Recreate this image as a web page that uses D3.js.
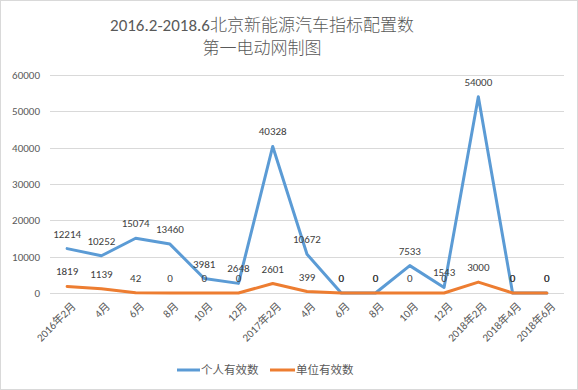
<!DOCTYPE html>
<html><head><meta charset="utf-8">
<script src="https://cdn.jsdelivr.net/npm/d3@7"></script>
<style>
html,body{margin:0;padding:0;background:#fff;}
svg{display:block;}
</style></head>
<body>
<svg id="c" width="578" height="390"></svg>
<script>
const categories = ["2016年2月","4月","6月","8月","10月","12月","2017年2月","4月","6月","8月","10月","12月","2018年2月","2018年4月","2018年6月"];
const personal = [12214,10252,15074,13460,3981,2648,40328,10672,0,0,7533,1543,54000,0,0];
const unit = [1819,1139,42,0,0,0,2601,399,0,0,0,0,3000,0,0];
const yTicks = [0,10000,20000,30000,40000,50000,60000];
const seriesNames = ["个人有效数","单位有效数"];
const colors = ["#5B9BD5","#ED7D31"];

const svg = d3.select("#c");
const W = 578, H = 390;
const latin = "Carlito, Calibri, 'Open Sans', 'Noto Sans CJK SC', sans-serif";
const cjk = "'Noto Sans CJK SC', sans-serif";
const textCol = "#595959";

svg.append("rect").attr("x",0.5).attr("y",0.5).attr("width",W-1).attr("height",H-1)
  .attr("fill","#fff").attr("stroke","#d9d9d9");

// Title
const tx = 262;
const t1 = svg.append("text").attr("x",tx).attr("y",31).attr("text-anchor","middle")
  .attr("fill",textCol).attr("font-size",17);
t1.append("tspan").attr("font-family",latin).text("2016.2-2018.6");
t1.append("tspan").attr("font-family",cjk).attr("font-weight",300).text("北京新能源汽车指标配置数");
svg.append("text").attr("x",tx).attr("y",54).attr("text-anchor","middle")
  .attr("fill",textCol).attr("font-size",17).attr("font-family",cjk).attr("font-weight",300).text("第一电动网制图");

const x = d3.scalePoint().domain(d3.range(categories.length)).range([50,564]).padding(0.5);
const y = d3.scaleLinear().domain([0,60000]).range([293,75]);

// gridlines
svg.append("g").selectAll("line").data(yTicks).join("line")
  .attr("x1",50).attr("x2",564)
  .attr("y1",d=>Math.round(y(d))+0.5).attr("y2",d=>Math.round(y(d))+0.5)
  .attr("stroke","#d9d9d9").attr("stroke-width",1);

// y axis
const yAxis = d3.axisLeft(y).tickValues(yTicks).tickSize(0).tickPadding(0).tickFormat(d3.format("d"));
const ga = svg.append("g").attr("transform","translate(40,0)").call(yAxis);
ga.select(".domain").remove();
ga.selectAll("text").attr("fill",textCol).attr("font-size",11).attr("font-family",latin);

// x axis
const xAxis = d3.axisBottom(x).tickSize(0).tickFormat(i=>categories[i]);
const gx = svg.append("g").attr("transform","translate(0,300)").call(xAxis);
gx.select(".domain").remove();
gx.selectAll("text").attr("fill",textCol).attr("font-size",11).attr("font-family",latin)
  .attr("text-anchor","end").attr("dy","0.35em")
  .attr("transform","translate(4,2) rotate(-45)");

// lines
const line = d3.line().x((d,i)=>x(i)).y(d=>y(d));
[personal, unit].forEach((s,k)=>{
  svg.append("path").datum(s).attr("d",line).attr("fill","none")
    .attr("stroke",colors[k]).attr("stroke-width",3).attr("stroke-linejoin","round").attr("stroke-linecap","round");
});
// labels
[personal, unit].forEach((s,k)=>{
  svg.append("g").selectAll("text").data(s).join("text")
    .attr("x",(d,i)=>x(i)).attr("y",d=>y(d)-11)
    .attr("text-anchor","middle").attr("fill","#404040").attr("font-size",11).attr("font-family",latin)
    .text(d=>d);
});

// legend
const leg = [[177,200,201],[270,295,296]];
seriesNames.forEach((n,k)=>{
  svg.append("line").attr("x1",leg[k][0]).attr("x2",leg[k][1]).attr("y1",370).attr("y2",370)
    .attr("stroke",colors[k]).attr("stroke-width",3);
  svg.append("text").attr("x",leg[k][2]).attr("y",374).attr("fill",textCol).attr("font-size",11.5)
    .attr("font-family",cjk).text(n);
});
</script>
</body></html>
